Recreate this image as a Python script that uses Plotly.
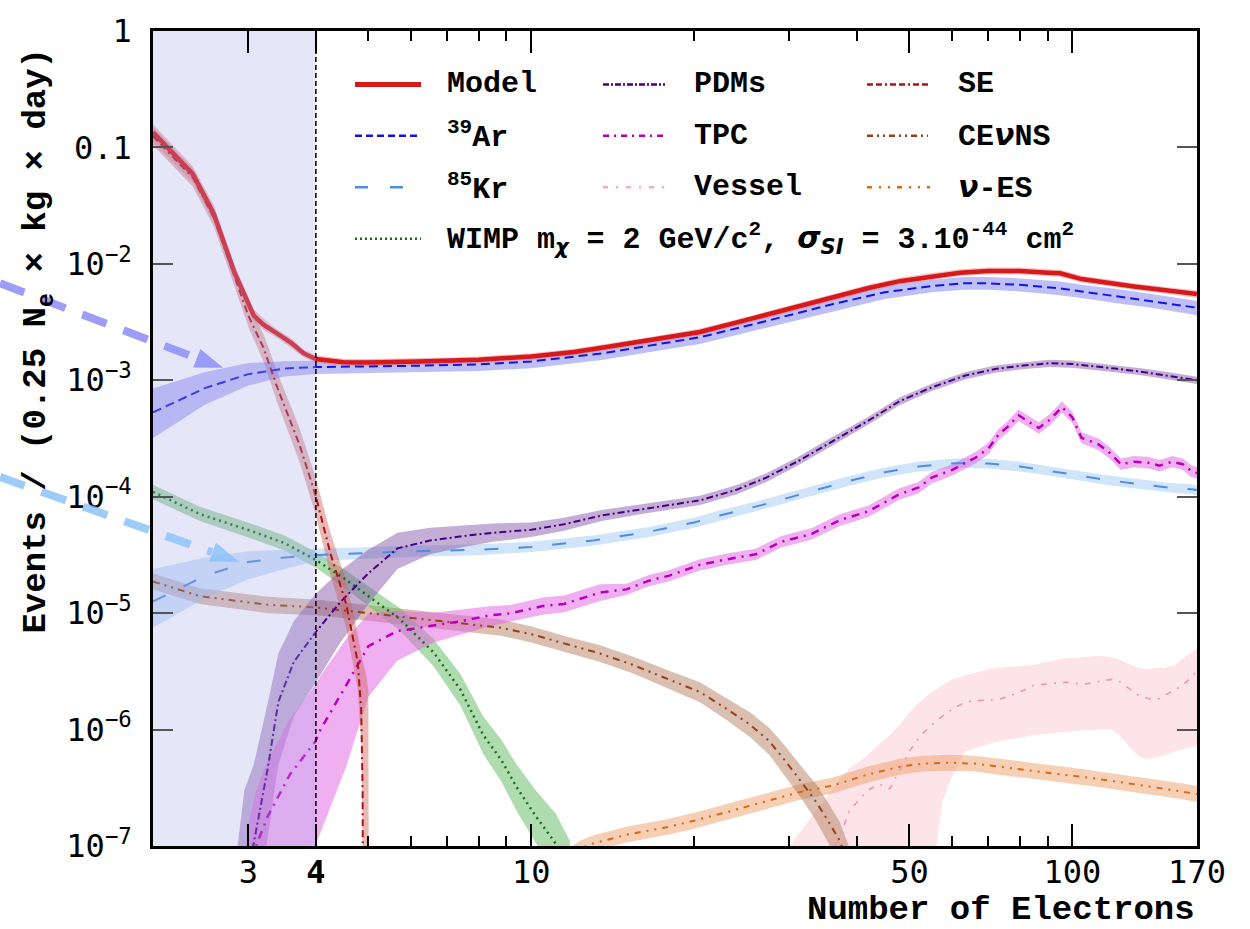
import plotly.graph_objects as go

# ---------------- data ----------------
model_x = [2.0, 2.37, 2.59, 2.83, 3.07, 3.2, 3.4, 3.6, 3.8, 4.0, 4.5, 5.0, 6.0, 7.0, 8.0, 10, 12, 13.5, 16.6, 20.5, 25, 30, 36, 42, 48, 55, 62, 70, 80, 90, 95, 104, 115, 130, 150, 166, 170]
model_y = [0.135, 0.059, 0.027, 0.0084, 0.0036, 0.0030, 0.0025, 0.0021, 0.0017, 0.00152, 0.00143, 0.00142, 0.00144, 0.00147, 0.0015, 0.0016, 0.00175, 0.0019, 0.0022, 0.0026, 0.0033, 0.0041, 0.0051, 0.0062, 0.0071, 0.0078, 0.0084, 0.0087, 0.0087, 0.0084, 0.0083, 0.0074, 0.0069, 0.0064, 0.0059, 0.0056, 0.0055]
model_lo = [0.112, 0.050, 0.023, 0.0072, 0.0032, 0.0027, 0.0023, 0.0019, 0.00157, 0.00141, 0.00133, 0.00132, 0.00134, 0.00137, 0.0014, 0.0015, 0.00163, 0.00177, 0.00205, 0.00243, 0.0031, 0.00383, 0.00477, 0.0058, 0.00664, 0.0073, 0.00785, 0.0081, 0.0081, 0.00785, 0.00775, 0.0069, 0.00645, 0.006, 0.0055, 0.0052, 0.0051]
model_hi = [0.158, 0.069, 0.032, 0.0098, 0.0041, 0.0034, 0.0027, 0.0023, 0.00183, 0.00164, 0.00153, 0.00152, 0.00154, 0.00157, 0.0016, 0.00171, 0.00187, 0.00203, 0.00235, 0.00278, 0.0035, 0.00439, 0.00546, 0.0066, 0.0076, 0.00835, 0.0090, 0.0093, 0.0093, 0.0090, 0.0089, 0.0079, 0.0074, 0.0068, 0.0063, 0.006, 0.0059]

ar_x = [2.0, 2.5, 3.0, 3.5, 4.0, 5.0, 6.0, 8.0, 10, 13.5, 16.6, 20.5, 27, 36, 45, 55, 63, 70, 80, 94, 104, 120, 140, 166, 170]
ar_y = [0.00053, 0.00086, 0.00113, 0.00126, 0.0013, 0.00131, 0.00133, 0.00137, 0.00145, 0.0017, 0.002, 0.00234, 0.0032, 0.0045, 0.0057, 0.00645, 0.0068, 0.0068, 0.0066, 0.0062, 0.0058, 0.0053, 0.0048, 0.0043, 0.0042]
ar_lo = [0.00032, 0.00062, 0.0009, 0.00108, 0.00113, 0.00115, 0.00117, 0.0012, 0.00127, 0.00149, 0.00175, 0.00205, 0.0028, 0.0039, 0.0050, 0.0057, 0.006, 0.006, 0.0058, 0.0054, 0.0051, 0.0046, 0.0042, 0.0037, 0.0036]
ar_hi = [0.00085, 0.00118, 0.00141, 0.00146, 0.00149, 0.0015, 0.00152, 0.00156, 0.00165, 0.00193, 0.00228, 0.00266, 0.0036, 0.0051, 0.0065, 0.0073, 0.0077, 0.0077, 0.0075, 0.0071, 0.0066, 0.0061, 0.0055, 0.0049, 0.0048]

kr_x = [2.0, 2.5, 3.0, 3.5, 4.0, 5.0, 6.0, 8.0, 10, 13, 16.5, 20, 22.3, 27, 32, 38.7, 45, 52, 59, 63.5, 70, 80, 90.5, 100, 115, 130, 150, 166, 170]
kr_y = [1.26e-5, 2.1e-5, 2.75e-5, 3.0e-5, 3.15e-5, 3.3e-5, 3.4e-5, 3.5e-5, 3.7e-5, 4.2e-5, 5.0e-5, 6.0e-5, 6.9e-5, 8.6e-5, 1.07e-4, 1.37e-4, 1.62e-4, 1.82e-4, 1.92e-4, 1.95e-4, 1.93e-4, 1.82e-4, 1.67e-4, 1.55e-4, 1.4e-4, 1.3e-4, 1.2e-4, 1.16e-4, 1.14e-4]
kr_lo = [7.5e-6, 1.35e-5, 1.95e-5, 2.4e-5, 2.8e-5, 2.95e-5, 3.05e-5, 3.15e-5, 3.35e-5, 3.8e-5, 4.5e-5, 5.4e-5, 6.2e-5, 7.8e-5, 9.7e-5, 1.24e-4, 1.47e-4, 1.65e-4, 1.74e-4, 1.77e-4, 1.75e-4, 1.65e-4, 1.52e-4, 1.41e-4, 1.27e-4, 1.18e-4, 1.09e-4, 1.05e-4, 1.03e-4]
kr_hi = [2.4e-5, 3.0e-5, 3.4e-5, 3.5e-5, 3.6e-5, 3.7e-5, 3.8e-5, 3.9e-5, 4.1e-5, 4.65e-5, 5.5e-5, 6.6e-5, 7.6e-5, 9.5e-5, 1.18e-4, 1.51e-4, 1.78e-4, 2.0e-4, 2.11e-4, 2.15e-4, 2.12e-4, 2.0e-4, 1.84e-4, 1.7e-4, 1.54e-4, 1.43e-4, 1.32e-4, 1.28e-4, 1.25e-4]

wimp_x = [2.0, 2.44, 3.03, 3.5, 4.0, 4.5, 5.0, 5.7, 6.6, 7.4, 8.15, 8.8, 9.4, 10.2, 11.1, 11.8]
wimp_y = [1.1e-4, 7.1e-5, 5.1e-5, 4.0e-5, 2.86e-5, 2.0e-5, 1.4e-5, 9.0e-6, 4.6e-6, 2.2e-6, 9e-7, 5.5e-7, 3.2e-7, 1.8e-7, 1.05e-7, 5e-8]
wimp_lo = [9.5e-5, 6.2e-5, 4.4e-5, 3.45e-5, 2.45e-5, 1.68e-5, 1.15e-5, 7.2e-6, 3.5e-6, 1.6e-6, 6.2e-7, 3.6e-7, 2.0e-7, 1.05e-7, 5.5e-8, 2e-8]
wimp_hi = [1.27e-4, 8.2e-5, 5.9e-5, 4.65e-5, 3.35e-5, 2.4e-5, 1.7e-5, 1.12e-5, 6.0e-6, 3.0e-6, 1.3e-6, 8.2e-7, 5.0e-7, 3.0e-7, 1.9e-7, 1.1e-7]

pdm_x = [2.85, 2.95, 3.07, 3.26, 3.41, 3.64, 3.99, 4.43, 5.0, 5.66, 6.5, 7.5, 8.5, 10, 11.5, 13.5, 16, 20.5, 24, 27.2, 31, 36, 42, 47.9, 55, 63.5, 72, 80, 90.5, 100, 110, 120, 135, 150, 166, 170]
pdm_y = [3e-8, 5e-8, 1.05e-7, 4.7e-7, 1.73e-6, 3.8e-6, 6.8e-6, 1.23e-5, 2.2e-5, 3.6e-5, 4.2e-5, 4.6e-5, 4.9e-5, 5.2e-5, 5.8e-5, 6.9e-5, 7.8e-5, 9.3e-5, 1.15e-4, 1.46e-4, 2.0e-4, 3.0e-4, 4.5e-4, 6.6e-4, 8.7e-4, 1.1e-3, 1.25e-3, 1.33e-3, 1.4e-3, 1.38e-3, 1.32e-3, 1.26e-3, 1.18e-3, 1.1e-3, 1.02e-3, 1.0e-3]
pdm_lo = [1e-8, 2e-8, 2.5e-8, 1.2e-7, 5e-7, 1.3e-6, 2.5e-6, 5.5e-6, 1.2e-5, 2.4e-5, 3.2e-5, 3.7e-5, 4.1e-5, 4.5e-5, 5.1e-5, 6.2e-5, 7.1e-5, 8.5e-5, 1.05e-4, 1.34e-4, 1.84e-4, 2.77e-4, 4.17e-4, 6.1e-4, 8.1e-4, 1.02e-3, 1.16e-3, 1.24e-3, 1.3e-3, 1.28e-3, 1.23e-3, 1.17e-3, 1.1e-3, 1.02e-3, 0.95e-3, 0.93e-3]
pdm_hi = [8e-8, 3e-7, 5e-7, 1.7e-6, 4.5e-6, 8.5e-6, 1.45e-5, 2.3e-5, 3.5e-5, 4.9e-5, 5.4e-5, 5.7e-5, 5.9e-5, 6.0e-5, 6.6e-5, 7.7e-5, 8.6e-5, 1.02e-4, 1.26e-4, 1.59e-4, 2.17e-4, 3.25e-4, 4.85e-4, 7.1e-4, 9.35e-4, 1.18e-3, 1.34e-3, 1.42e-3, 1.5e-3, 1.48e-3, 1.41e-3, 1.35e-3, 1.26e-3, 1.18e-3, 1.09e-3, 1.07e-3]

tpc_x = [3.0, 3.1, 3.26, 3.58, 3.99, 4.08, 4.55, 5.0, 5.65, 6.6, 7.5, 8.3, 9.2, 10.5, 11.5, 13.4, 15, 16.5, 18, 20.5, 23, 26, 29, 33, 37.2, 42, 47.9, 52, 55, 60, 66.2, 70, 73, 76, 79.6, 83, 86.7, 91, 95.7, 100, 104, 108, 112, 117, 123, 130, 138, 145, 153, 160, 166, 170]
tpc_y = [5e-8, 1e-7, 1.8e-7, 4.1e-7, 7.9e-7, 1e-6, 2.4e-6, 5.2e-6, 7.0e-6, 7.8e-6, 8.6e-6, 9.5e-6, 1.0e-5, 1.15e-5, 1.2e-5, 1.5e-5, 1.6e-5, 1.9e-5, 2.1e-5, 2.6e-5, 2.9e-5, 3.2e-5, 4.1e-5, 4.8e-5, 6.3e-5, 7.5e-5, 1.05e-4, 1.2e-4, 1.46e-4, 1.7e-4, 2.16e-4, 2.6e-4, 3.4e-4, 4.0e-4, 5.0e-4, 4.4e-4, 3.9e-4, 4.6e-4, 5.9e-4, 4.8e-4, 3.2e-4, 3.0e-4, 2.8e-4, 2.4e-4, 1.9e-4, 2.0e-4, 1.96e-4, 1.85e-4, 2.0e-4, 1.9e-4, 1.66e-4, 1.6e-4]
tpc_lo = [6e-9, 1.25e-8, 2.2e-8, 5e-8, 1e-7, 1.3e-7, 4.8e-7, 1.9e-6, 3.9e-6, 5.6e-6, 6.6e-6, 7.6e-6, 8.5e-6, 9.7e-6, 1.02e-5, 1.27e-5, 1.43e-5, 1.7e-5, 1.88e-5, 2.32e-5, 2.6e-5, 2.86e-5, 3.66e-5, 4.3e-5, 5.6e-5, 6.7e-5, 9.4e-5, 1.07e-4, 1.3e-4, 1.52e-4, 1.93e-4, 2.32e-4, 3.04e-4, 3.57e-4, 4.46e-4, 3.93e-4, 3.48e-4, 4.1e-4, 5.27e-4, 4.29e-4, 2.86e-4, 2.68e-4, 2.5e-4, 2.14e-4, 1.7e-4, 1.79e-4, 1.75e-4, 1.65e-4, 1.79e-4, 1.7e-4, 1.48e-4, 1.43e-4]
tpc_hi = [1.5e-7, 3e-7, 5.4e-7, 1.23e-6, 2.4e-6, 2.9e-6, 6e-6, 9.9e-6, 1.05e-5, 1.01e-5, 1.08e-5, 1.14e-5, 1.18e-5, 1.36e-5, 1.42e-5, 1.77e-5, 1.79e-5, 2.13e-5, 2.35e-5, 2.91e-5, 3.25e-5, 3.58e-5, 4.59e-5, 5.38e-5, 7.06e-5, 8.4e-5, 1.18e-4, 1.34e-4, 1.64e-4, 1.9e-4, 2.42e-4, 2.91e-4, 3.81e-4, 4.48e-4, 5.6e-4, 4.93e-4, 4.37e-4, 5.15e-4, 6.61e-4, 5.38e-4, 3.58e-4, 3.36e-4, 3.14e-4, 2.69e-4, 2.13e-4, 2.24e-4, 2.2e-4, 2.07e-4, 2.24e-4, 2.13e-4, 1.86e-4, 1.79e-4]

vessel_x = [30, 33, 35.9, 37.2, 38.7, 41.8, 44, 46, 48, 50, 52, 55, 57.5, 60, 63.5, 68, 73, 80, 85, 92, 97, 105, 112, 118, 122, 128, 133, 138, 143, 148, 155, 160, 166, 170]
vessel_y = [4e-8, 6e-8, 9e-8, 1.2e-7, 2e-7, 3e-7, 3.4e-7, 3.1e-7, 4.5e-7, 6.5e-7, 8.5e-7, 1.1e-6, 1.3e-6, 1.5e-6, 1.73e-6, 1.78e-6, 1.8e-6, 2.1e-6, 2.4e-6, 2.5e-6, 2.55e-6, 2.45e-6, 2.6e-6, 2.7e-6, 2.6e-6, 2.2e-6, 1.95e-6, 1.85e-6, 1.8e-6, 1.96e-6, 2.2e-6, 2.4e-6, 2.8e-6, 3.2e-6]
vessel_lo = [1e-8, 1e-8, 1e-8, 1e-8, 1e-8, 1e-8, 1e-8, 1e-8, 1e-8, 1e-8, 1e-8, 5e-8, 2.4e-7, 4e-7, 6.5e-7, 7.2e-7, 7.9e-7, 8.5e-7, 9e-7, 9.3e-7, 9.6e-7, 9.8e-7, 1.0e-6, 1.0e-6, 9e-7, 7e-7, 5.8e-7, 5.6e-7, 5.8e-7, 6e-7, 6.5e-7, 6.8e-7, 7.1e-7, 7.3e-7]
vessel_hi = [1e-7, 1.8e-7, 3e-7, 3.8e-7, 4.6e-7, 6e-7, 7.5e-7, 9e-7, 1.1e-6, 1.4e-6, 1.7e-6, 2.1e-6, 2.4e-6, 2.7e-6, 2.9e-6, 3.2e-6, 3.4e-6, 3.5e-6, 3.6e-6, 3.9e-6, 4.1e-6, 4.2e-6, 4.3e-6, 4.2e-6, 4.0e-6, 3.6e-6, 3.4e-6, 3.3e-6, 3.4e-6, 3.4e-6, 3.6e-6, 4.0e-6, 4.6e-6, 5.0e-6]

se_x = [2.0, 2.37, 2.59, 2.83, 3.0, 3.2, 3.4, 3.73, 3.99, 4.26, 4.55, 4.78, 4.85, 4.88, 4.885, 4.95, 5.0, 5.01]
se_y = [0.125, 0.055, 0.025, 0.0078, 0.0036, 0.0019, 8.5e-4, 2.8e-4, 1.05e-4, 3.2e-5, 1.2e-5, 3.8e-6, 1.5e-6, 3e-7, 5e-8, 5e-8, 5e-8, 5e-8]
se_lo = [0.105, 0.046, 0.021, 0.0064, 0.0029, 0.00145, 6.3e-4, 2.0e-4, 7.2e-5, 2.1e-5, 7.5e-6, 2.2e-6, 8e-7, 1.5e-7, 3e-8, 3e-8, 3e-8, 3e-8]
se_hi = [0.15, 0.066, 0.03, 0.0095, 0.0045, 0.0025, 1.15e-3, 3.9e-4, 1.5e-4, 4.8e-5, 1.9e-5, 6.5e-6, 4.5e-6, 4e-6, 3.8e-6, 3e-6, 2.2e-6, 3e-8]

cevns_x = [2.0, 2.44, 3.26, 4.0, 5.0, 6.0, 7.3, 8.78, 10, 11.6, 13.4, 15.4, 18, 20.5, 23, 25.4, 27.5, 29.2, 31.5, 33.6, 35.5, 37.2, 38.5, 40]
cevns_y = [1.87e-5, 1.4e-5, 1.18e-5, 1.12e-5, 1.0e-5, 9.1e-6, 8.3e-6, 7.5e-6, 6.6e-6, 5.4e-6, 4.5e-6, 3.6e-6, 2.7e-6, 2.1e-6, 1.5e-6, 1.1e-6, 8e-7, 5.7e-7, 3.6e-7, 2.4e-7, 1.6e-7, 1.1e-7, 7e-8, 4e-8]
cevns_lo = [1.6e-5, 1.2e-5, 1.0e-5, 9.6e-6, 8.6e-6, 7.8e-6, 7.1e-6, 6.4e-6, 5.6e-6, 4.6e-6, 3.8e-6, 3.05e-6, 2.25e-6, 1.72e-6, 1.2e-6, 8.6e-7, 6.1e-7, 4.2e-7, 2.6e-7, 1.65e-7, 1.05e-7, 7e-8, 4.3e-8, 2.4e-8]
cevns_hi = [2.2e-5, 1.64e-5, 1.38e-5, 1.31e-5, 1.17e-5, 1.07e-5, 9.7e-6, 8.8e-6, 7.7e-6, 6.3e-6, 5.3e-6, 4.25e-6, 3.2e-6, 2.55e-6, 1.85e-6, 1.4e-6, 1.04e-6, 7.6e-7, 4.9e-7, 3.4e-7, 2.3e-7, 1.6e-7, 1.05e-7, 6.5e-8]

nues_x = [11.2, 12.3, 13, 15, 17.8, 20, 23.4, 27, 31.3, 36, 41.8, 48, 53, 59, 66, 73, 85, 97, 110, 130, 145, 160, 170]
nues_y = [7e-8, 9.5e-8, 1.05e-7, 1.25e-7, 1.45e-7, 1.65e-7, 2.0e-7, 2.4e-7, 2.9e-7, 3.3e-7, 4.1e-7, 4.8e-7, 5.1e-7, 5.2e-7, 5.1e-7, 4.8e-7, 4.4e-7, 4.1e-7, 3.8e-7, 3.4e-7, 3.15e-7, 2.95e-7, 2.8e-7]
nues_lo = [6e-8, 8.1e-8, 9e-8, 1.07e-7, 1.24e-7, 1.41e-7, 1.71e-7, 2.05e-7, 2.48e-7, 2.82e-7, 3.5e-7, 4.1e-7, 4.36e-7, 4.44e-7, 4.36e-7, 4.1e-7, 3.76e-7, 3.5e-7, 3.25e-7, 2.9e-7, 2.7e-7, 2.52e-7, 2.39e-7]
nues_hi = [8.2e-8, 1.11e-7, 1.23e-7, 1.46e-7, 1.7e-7, 1.93e-7, 2.34e-7, 2.81e-7, 3.39e-7, 3.86e-7, 4.8e-7, 5.62e-7, 5.97e-7, 6.08e-7, 5.97e-7, 5.62e-7, 5.15e-7, 4.8e-7, 4.45e-7, 3.98e-7, 3.69e-7, 3.45e-7, 3.28e-7]

x_tickvals = [3, 4, 10, 50, 100, 170]
x_ticktext = ["3", "<b>4</b>", "10", "50", "100", "170"]
x_minor = [5, 6, 7, 8, 9, 20, 30, 40, 60, 70, 80, 90]
y_tickvals = [1e-7, 1e-6, 1e-5, 1e-4, 1e-3, 1e-2, 0.1, 1]
y_ticktext = ["10<sup>\u22127</sup>", "10<sup>\u22126</sup>", "10<sup>\u22125</sup>", "10<sup>\u22124</sup>",
              "10<sup>\u22123</sup>", "10<sup>\u22122</sup>", "0.1", "1"]
threshold_x = [2, 4]

# ---------------- styles ----------------
series = [
    # name, x, y, lo, hi, line color, width, dash, band color
    ("Vessel", vessel_x, vessel_y, vessel_lo, vessel_hi, "rgb(240,150,180)", 1.6, "6px,7px,2px,7px", "rgba(250,195,205,0.45)"),
    ("nu-ES", nues_x, nues_y, nues_lo, nues_hi, "rgb(215,105,25)", 2.0, "6px,6px,2px,6px,2px,6px", "rgba(238,160,105,0.5)"),
    ("CEvNS", cevns_x, cevns_y, cevns_lo, cevns_hi, "rgb(150,65,25)", 2.0, "7px,5px,2px,5px,2px,5px", "rgba(175,115,85,0.45)"),
    ("WIMP", wimp_x, wimp_y, wimp_lo, wimp_hi, "rgb(20,110,30)", 2.5, "2px,4px", "rgba(95,185,95,0.5)"),
    ("Kr", kr_x, kr_y, kr_lo, kr_hi, "rgb(80,140,225)", 2.0, "14px,20px", "rgba(150,195,245,0.45)"),
    ("PDMs", pdm_x, pdm_y, pdm_lo, pdm_hi, "rgb(70,0,130)", 2.0, "7px,3px,2px,3px", "rgba(125,75,165,0.45)"),
    ("TPC", tpc_x, tpc_y, tpc_lo, tpc_hi, "rgb(185,0,185)", 2.5, "8px,6px,2px,6px", "rgba(225,95,225,0.5)"),
    ("SE", se_x, se_y, se_lo, se_hi, "rgb(170,20,20)", 2.0, "7px,4px,7px,4px,2px,4px", "rgba(205,100,95,0.45)"),
    ("Ar", ar_x, ar_y, ar_lo, ar_hi, "rgb(20,20,225)", 2.0, "9px,5px", "rgba(110,110,240,0.45)"),
    ("Model", model_x, model_y, model_lo, model_hi, "rgb(215,25,28)", 4.5, "solid", "rgba(232,120,120,0.45)"),
]

fig = go.Figure()
for name, x, y, lo, hi, col, w, dash, band in series:
    fig.add_trace(go.Scatter(x=list(x) + list(x)[::-1], y=list(lo) + list(hi)[::-1],
                             fill="toself", fillcolor=band, line=dict(width=0),
                             mode="lines", hoverinfo="skip", showlegend=False))
for name, x, y, lo, hi, col, w, dash, band in series:
    fig.add_trace(go.Scatter(x=x, y=y, mode="lines", name=name, showlegend=False,
                             line=dict(color=col, width=w, dash=dash)))

# shaded threshold region (drawn above the curves) and threshold line
fig.add_trace(go.Scatter(x=[threshold_x[0], threshold_x[1], threshold_x[1], threshold_x[0], threshold_x[0]],
                         y=[1e-7, 1e-7, 1, 1, 1e-7], fill="toself", fillcolor="rgba(165,165,232,0.28)",
                         line=dict(width=0), mode="lines", hoverinfo="skip", showlegend=False))
fig.add_trace(go.Scatter(x=[threshold_x[1], threshold_x[1]], y=[1e-7, 1], mode="lines", showlegend=False,
                         line=dict(color="black", width=1.5, dash="5px,3px")))

# ---------------- layout helpers (pixel -> paper) ----------------
W, H = 1250, 929
L, R, T, B = 153, 1197, 22, 846


def fx(px):
    return (px - L) / (R - L)


def fy(py):
    return (B - py) / (B - T)


shapes = []
annotations = []


def seg(x0, y0, x1, y1, color, width, dash):
    shapes.append(dict(type="line", xref="paper", yref="paper", x0=fx(x0), y0=fy(y0), x1=fx(x1), y1=fy(y1),
                       line=dict(color=color, width=width, dash=dash), layer="above"))


def tri(pts, color):
    p = "M " + " L ".join(f"{fx(a)},{fy(b)}" for a, b in pts) + " Z"
    shapes.append(dict(type="path", xref="paper", yref="paper", path=p, fillcolor=color,
                       line=dict(width=0), layer="above"))


# arrows
seg(0, 277, 196, 352.5, "rgba(140,140,248,0.85)", 8, "26px,18px")
tri([(223, 362.5), (193.2, 362.1), (200.4, 343.5)], "rgba(140,140,248,0.85)")
seg(0, 473, 212, 549, "rgba(140,195,250,0.85)", 8, "26px,18px")
tri([(239, 558.5), (209.2, 558.3), (216, 539.5)], "rgba(140,195,250,0.85)")

# legend
LEG_FONT = dict(family="Liberation Mono", size=30, color="black")
rows = [76, 128, 180, 232]
legend_items = [
    (355, 421, 445, 0, "rgb(215,25,28)", 5, "solid", "<b>Model</b>"),
    (355, 421, 445, 1, "rgb(20,20,225)", 2.5, "7px,4px", "<b><sup>39</sup>Ar</b>"),
    (355, 421, 445, 2, "rgb(80,140,225)", 2.5, "13px,22px", "<b><sup>85</sup>Kr</b>"),
    (355, 421, 445, 3, "rgb(20,110,30)", 2.5, "2px,3px",
     "<b>WIMP m<sub><span style=\"font-family:'DejaVu Sans'\"><i>\u03c7</i></span></sub> = 2 GeV/c<sup>2</sup>, "
     "<span style=\"font-family:'DejaVu Sans'\"><i>\u03c3<sub>SI</sub></i></span> = 3.10<sup>-44</sup> cm<sup>2</sup></b>"),
    (603, 665, 692, 0, "rgb(70,0,130)", 2.5, "6px,2px,2px,2px", "<b>PDMs</b>"),
    (603, 665, 692, 1, "rgb(185,0,185)", 2.5, "6px,5px,2px,5px", "<b>TPC</b>"),
    (603, 665, 692, 2, "rgb(245,175,195)", 2.5, "5px,8px,2px,8px", "<b>Vessel</b>"),
    (867, 928, 956, 0, "rgb(170,20,20)", 2.5, "6px,3px,6px,3px,2px,3px", "<b>SE</b>"),
    (867, 928, 956, 1, "rgb(150,65,25)", 2.5, "6px,4px,2px,4px,2px,4px", "<b>CE<span style=\"font-family:'DejaVu Sans'\"><i>\u03bd</i></span>NS</b>"),
    (867, 930, 956, 2, "rgb(215,105,25)", 2.5, "5px,7px,2px,7px,2px,7px", "<b><span style=\"font-family:'DejaVu Sans'\"><i>\u03bd</i></span>-ES</b>"),
]
for x0, x1, tx, r, col, w, dash, label in legend_items:
    yy = rows[r]
    seg(x0, yy, x1, yy, col, w, dash)
    annotations.append(dict(xref="paper", yref="paper", x=fx(tx), y=fy(yy), xanchor="left", yanchor="middle",
                            text=label, showarrow=False, font=LEG_FONT))

# axis titles
annotations.append(dict(xref="paper", yref="paper", x=fx(1197), y=fy(911), xanchor="right", yanchor="middle",
                        text="<b>Number of Electrons</b>", showarrow=False,
                        font=dict(family="Liberation Mono", size=34, color="black")))
annotations.append(dict(xref="paper", yref="paper", x=fx(38), y=fy(335), xanchor="center", yanchor="middle",
                        textangle=-90, text="<b>Events / (0.25 N<sub>e</sub> \u00d7 kg \u00d7 day)</b>", showarrow=False,
                        font=dict(family="Liberation Mono", size=34, color="black")))

TICKFONT = dict(family="DejaVu Sans Mono", size=32, color="black")
fig.update_layout(
    width=W, height=H, margin=dict(l=L, r=W - R, t=T, b=H - B),
    paper_bgcolor="white", plot_bgcolor="white",
    shapes=shapes, annotations=annotations, showlegend=False,
    xaxis=dict(type="log", range=[0.30103, 2.230449], showgrid=False, zeroline=False,
               showline=True, linecolor="black", linewidth=2.5, mirror="ticks",
               ticks="inside", ticklen=22, tickwidth=1.5, tickcolor="black",
               tickmode="array", tickvals=x_tickvals, ticktext=x_ticktext, tickfont=TICKFONT,
               ticklabelstandoff=-4,
               minor=dict(tickmode="array", tickvals=x_minor, ticks="inside", ticklen=10,
                          tickwidth=1.5, tickcolor="black", showgrid=False)),
    yaxis=dict(type="log", range=[-7, 0], showgrid=False, zeroline=False,
               showline=True, linecolor="black", linewidth=2.5, mirror="ticks",
               ticks="inside", ticklen=20, tickwidth=1.5, tickcolor="#555555",
               tickmode="array", tickvals=y_tickvals, ticktext=y_ticktext, tickfont=TICKFONT,
               ticklabelstandoff=12),
)

fig.write_html("out.html")
